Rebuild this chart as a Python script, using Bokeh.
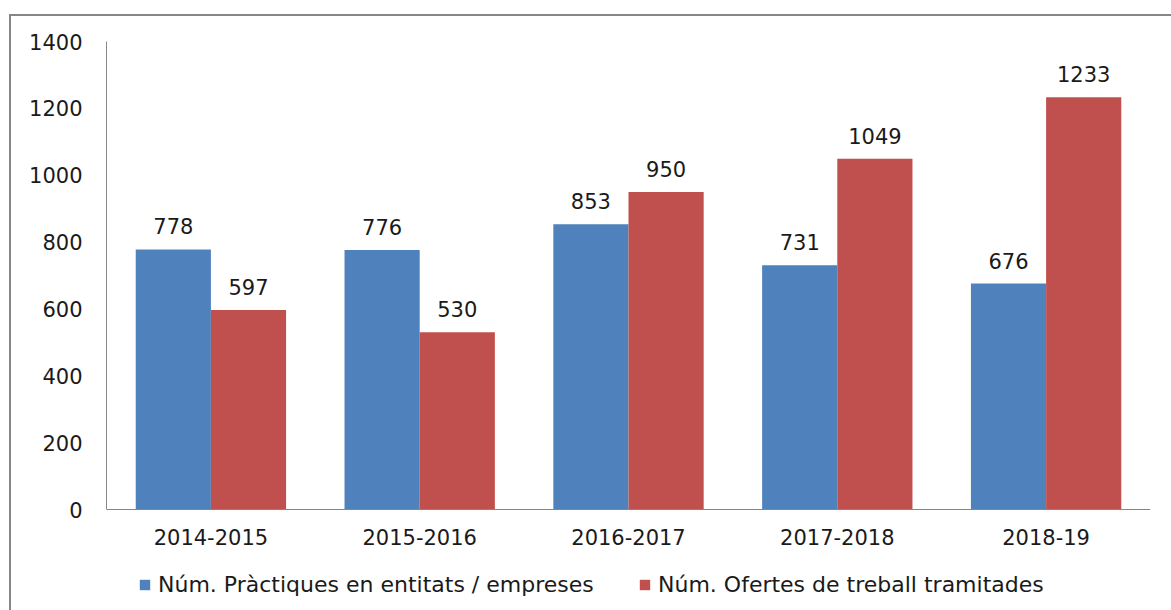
from bokeh.plotting import figure
from bokeh.models import (ColumnDataSource, FactorRange, Range1d, FixedTicker, LabelSet,
                          Legend, LegendItem, Span)
from bokeh.layouts import column
from bokeh.transform import dodge
from bokeh.core.properties import value
from bokeh.embed import file_html
from bokeh.resources import INLINE

categories = ["2014-2015", "2015-2016", "2016-2017", "2017-2018", "2018-19"]
practiques = [778, 776, 853, 731, 676]
ofertes = [597, 530, 950, 1049, 1233]
series_names = ["Núm. Pràctiques en entitats / empreses", "Núm. Ofertes de treball tramitades"]
y_ticks = [0, 200, 400, 600, 800, 1000, 1200, 1400]

BLUE = "#4F81BD"
RED = "#C0504D"
GRAY = "#868686"
TXT = "#1a1a1a"
FONT = "DejaVu Sans"
FS = "21px"
LFS = "22px"

# geometry (pixels)
FIG_W, FIG_H = 1160, 594
PLOT_H = 468          # pixel height of 0..1400
FRAME_TOP = 25
FRAME_H = FIG_H - FRAME_TOP
y_start = -1400.0 * (FRAME_H - PLOT_H) / PLOT_H

source = ColumnDataSource(dict(cat=categories, a=practiques, b=ofertes, z=[0] * len(categories),
                               la=[str(v) for v in practiques], lb=[str(v) for v in ofertes]))

p = figure(width=FIG_W, height=FIG_H, output_backend="svg", toolbar_location=None,
           x_range=FactorRange(*categories), y_range=Range1d(y_start, 1400),
           min_border_left=95, min_border_right=21, min_border_top=FRAME_TOP, min_border_bottom=0)
p.outline_line_color = None
p.xgrid.visible = False
p.ygrid.visible = False
p.xaxis.visible = False

ra = p.vbar(x=dodge("cat", -0.18, range=p.x_range), top="a", width=0.36, source=source,
            fill_color=BLUE, line_color=None)
rb = p.vbar(x=dodge("cat", 0.18, range=p.x_range), top="b", width=0.36, source=source,
            fill_color=RED, line_color=None)

for col, lab, off in (("a", "la", -0.18), ("b", "lb", 0.18)):
    ls = LabelSet(x=dodge("cat", off, range=p.x_range), y=col, text=lab, source=source,
                  text_align="center", text_baseline="alphabetic", y_offset=15,
                  text_font=value(FONT), text_font_size=FS, text_color=TXT)
    p.add_layout(ls)

# x axis line and category labels
p.add_layout(Span(location=0, dimension="width", line_color=GRAY, line_width=1))
xl = LabelSet(x="cat", y="z", text="cat", source=source, text_align="center",
              text_baseline="alphabetic", y_offset=-35,
              text_font=value(FONT), text_font_size=FS, text_color=TXT)
p.add_layout(xl)

p.yaxis.ticker = FixedTicker(ticks=y_ticks)
p.yaxis.bounds = (0, 1400)
ax = p.yaxis
ax.axis_line_color = GRAY
ax.axis_line_width = 1
ax.major_tick_line_color = None
ax.minor_tick_line_color = None
ax.major_tick_out = 0
ax.major_tick_in = 0
ax.major_label_text_font = FONT
ax.major_label_text_font_size = FS
ax.major_label_text_color = TXT
ax.major_label_standoff = 24

for r, name, x in ((ra, series_names[0], 32), (rb, series_names[1], 532)):
    lg = Legend(items=[LegendItem(label=name, renderers=[r])], location=(x, 13),
                orientation="horizontal", padding=0, margin=0, border_line_alpha=0,
                background_fill_alpha=0, glyph_width=13, glyph_height=13, label_standoff=7,
                label_height=25,
                label_text_font=FONT, label_text_font_size=LFS, label_text_color=TXT)
    p.add_layout(lg, "center")

layout = column(p, styles={"border-left": "2px solid #868686", "border-top": "2px solid #868686",
                           "margin-left": "9px", "margin-top": "14px"})

open("out.html", "w").write(file_html(layout, INLINE))
